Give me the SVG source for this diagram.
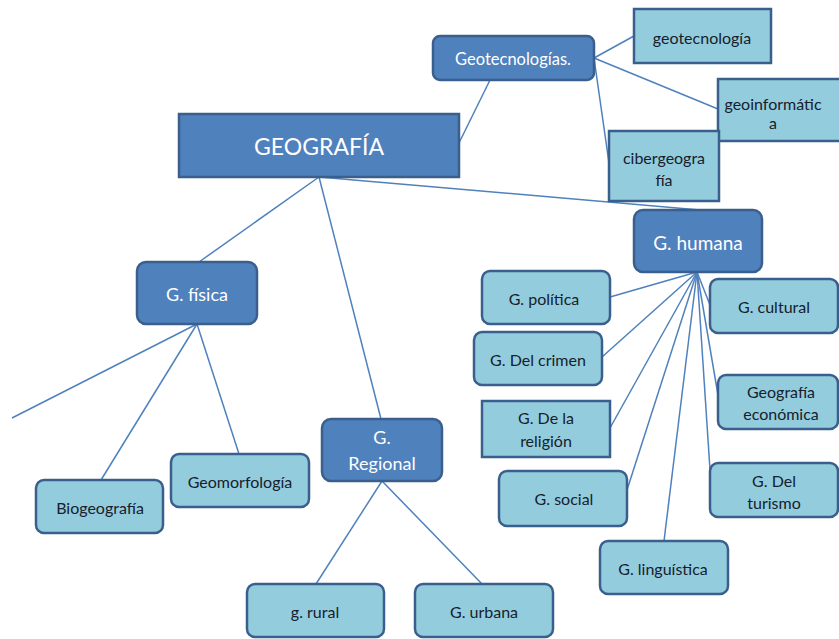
<svg xmlns="http://www.w3.org/2000/svg" width="839" height="639" viewBox="0 0 839 639">
<style>
.dk{fill:#4F81BD;stroke:#3A5F8D;stroke-width:2.5}
.lt{fill:#93CDDD;stroke:#3A5F8D;stroke-width:2.5}
.tw{font-family:Lato,"Liberation Sans",sans-serif;fill:#FFFFFF;text-anchor:middle;dominant-baseline:central}
.tb{font-family:Lato,"Liberation Sans",sans-serif;fill:#17202C;text-anchor:middle;dominant-baseline:central;font-size:16px}
.cn line{stroke:#4F81BD;stroke-width:1.5}
</style>
<rect width="839" height="639" fill="#FFFFFF"/>
<g class="cn" id="connectors">
<line x1="319" y1="177" x2="199" y2="262"/>
<line x1="319" y1="177" x2="381" y2="419"/>
<line x1="319" y1="177" x2="700" y2="210"/>
<line x1="459" y1="143" x2="490" y2="80"/>
<line x1="594" y1="58" x2="634" y2="36"/>
<line x1="594" y1="58" x2="718" y2="109"/>
<line x1="594" y1="58" x2="609" y2="163"/>
<line x1="197" y1="324" x2="12" y2="418"/>
<line x1="197" y1="324" x2="101" y2="480"/>
<line x1="197" y1="324" x2="239" y2="454"/>
<line x1="382" y1="481" x2="316" y2="584"/>
<line x1="382" y1="481" x2="482" y2="584"/>
<line x1="697" y1="272" x2="610" y2="297"/>
<line x1="697" y1="272" x2="602" y2="357"/>
<line x1="697" y1="272" x2="610" y2="428"/>
<line x1="697" y1="272" x2="627" y2="490"/>
<line x1="697" y1="272" x2="664" y2="541"/>
<line x1="697" y1="272" x2="710" y2="470"/>
<line x1="697" y1="272" x2="718" y2="395"/>
<line x1="697" y1="272" x2="710" y2="305"/>
</g>
<g id="geografia"><rect class="dk" x="179" y="114" width="280" height="63"/><text class="tw" x="319" y="146" font-size="23">GEOGRAFÍA</text></g>
<g id="geotecnologias"><rect class="dk" x="433" y="36" width="161" height="44" rx="7"/><text class="tw" x="513" y="59" font-size="16.5">Geotecnologías.</text></g>
<g id="geotecnologia"><rect class="lt" x="634" y="9" width="137" height="54"/><text class="tb" x="702" y="37">geotecnología</text></g>
<g id="geoinformatica"><rect class="lt" x="718" y="79" width="130" height="62"/><text class="tb" x="773" y="103">geoinformátic</text><text class="tb" x="773" y="122" font-size="11">a</text></g>
<g id="cibergeografia"><rect class="lt" x="609" y="131" width="110" height="70"/><text class="tb" x="664" y="157">cibergeogra</text><text class="tb" x="664" y="179">fía</text></g>
<g id="humana"><rect class="dk" x="634" y="210" width="128" height="62" rx="9"/><text class="tw" x="698" y="242" font-size="19">G. humana</text></g>
<g id="politica"><rect class="lt" x="482" y="271" width="128" height="53" rx="8"/><text class="tb" x="544" y="298">G. política</text></g>
<g id="cultural"><rect class="lt" x="710" y="279" width="128" height="54" rx="8"/><text class="tb" x="774" y="306">G. cultural</text></g>
<g id="crimen"><rect class="lt" x="474" y="332" width="128" height="53" rx="8"/><text class="tb" x="538" y="359">G. Del crimen</text></g>
<g id="economica"><rect class="lt" x="718" y="375" width="120" height="54" rx="8"/><text class="tb" x="781" y="391">Geografía</text><text class="tb" x="781" y="413">económica</text></g>
<g id="religion"><rect class="lt" x="482" y="401" width="128" height="56"/><text class="tb" x="546" y="417">G. De la</text><text class="tb" x="546" y="440">religión</text></g>
<g id="social"><rect class="lt" x="499" y="471" width="128" height="55" rx="8"/><text class="tb" x="564" y="498">G. social</text></g>
<g id="turismo"><rect class="lt" x="710" y="463" width="128" height="54" rx="8"/><text class="tb" x="774" y="480">G. Del</text><text class="tb" x="774" y="502">turismo</text></g>
<g id="linguistica"><rect class="lt" x="600" y="541" width="128" height="53" rx="8"/><text class="tb" x="663" y="568">G. linguística</text></g>
<g id="rural"><rect class="lt" x="247" y="584" width="137" height="53" rx="8"/><text class="tb" x="315" y="611">g. rural</text></g>
<g id="urbana"><rect class="lt" x="415" y="584" width="138" height="53" rx="8"/><text class="tb" x="484" y="611">G. urbana</text></g>
<g id="fisica"><rect class="dk" x="137" y="262" width="120" height="62" rx="9"/><text class="tw" x="197" y="294" font-size="18">G. física</text></g>
<g id="regional"><rect class="dk" x="322" y="419" width="120" height="62" rx="9"/><text class="tw" x="382" y="437" font-size="18">G.</text><text class="tw" x="382" y="463" font-size="18">Regional</text></g>
<g id="biogeografia"><rect class="lt" x="36" y="480" width="127" height="53" rx="8"/><text class="tb" x="100" y="507">Biogeografía</text></g>
<g id="geomorfologia"><rect class="lt" x="171" y="454" width="138" height="53" rx="8"/><text class="tb" x="240" y="481">Geomorfología</text></g>
</svg>
